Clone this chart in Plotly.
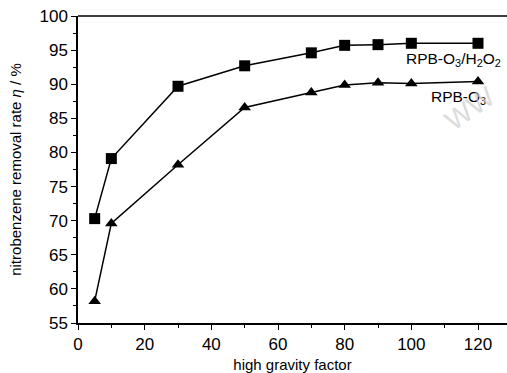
import plotly.graph_objects as go

x_vals = [5, 10, 30, 50, 70, 80, 90, 100, 120]
h2o2_vals = [70.3, 79.1, 89.7, 92.7, 94.6, 95.7, 95.8, 96.0, 96.0]
o3_vals = [58.2, 69.6, 78.2, 86.6, 88.8, 89.9, 90.2, 90.1, 90.4]

x_ticks = [0, 20, 40, 60, 80, 100, 120]
y_ticks = [55, 60, 65, 70, 75, 80, 85, 90, 95, 100]

FONT = "Liberation Sans, Arial"

fig = go.Figure()
fig.add_trace(go.Scatter(x=x_vals, y=h2o2_vals, mode="lines+markers",
                         line=dict(color="black", width=1.5),
                         marker=dict(symbol="square", size=11, color="black"),
                         showlegend=False))
fig.add_trace(go.Scatter(x=x_vals, y=o3_vals, mode="lines+markers",
                         line=dict(color="black", width=1.5),
                         marker=dict(symbol="triangle-up", size=11, color="black"),
                         showlegend=False))

fig.add_annotation(xref="paper", x=0.99, y=93.6, text="RPB-O<sub>3</sub>/H<sub>2</sub>O<sub>2</sub>",
                   showarrow=False, xanchor="right",
                   font=dict(family=FONT, size=15.5, color="black"))
fig.add_annotation(xref="paper", x=0.955, y=88.0, text="RPB-O<sub>3</sub>",
                   showarrow=False, xanchor="right",
                   font=dict(family=FONT, size=15.5, color="black"))
fig.add_annotation(x=117.5, y=86.5, text="WW", textangle=-35,
                   showarrow=False,
                   font=dict(family=FONT, size=28, color="rgba(205,205,205,0.7)"))

fig.update_layout(
    width=507, height=373,
    margin=dict(l=78, r=0, t=16, b=50),
    paper_bgcolor="white", plot_bgcolor="white",
    font=dict(family=FONT, size=17, color="black"),
    xaxis=dict(range=[0, 128.7], tickmode="array", tickvals=x_ticks,
               ticks="outside", ticklen=5, tickwidth=1.2, tickcolor="black",
               showline=True, linecolor="black", linewidth=1.5, mirror=False,
               showgrid=False, zeroline=False, automargin=False,
               minor=dict(tickvals=[10, 30, 50, 70, 90, 110], ticks="outside", ticklen=3,
                          tickcolor="black", tickwidth=1),
               title=dict(text="high gravity factor", font=dict(size=15), standoff=6),
               tickfont=dict(size=17)),
    yaxis=dict(range=[55, 100], tickmode="array", tickvals=y_ticks,
               ticks="outside", ticklen=5, tickwidth=1.2, tickcolor="black",
               showline=True, linecolor="black", linewidth=1.5,
               showgrid=False, zeroline=False, automargin=False,
               ticklabeloverflow="allow",
               minor=dict(tickvals=[57.5 + 5 * i for i in range(9)], ticks="outside", ticklen=3,
                          tickcolor="black", tickwidth=1),
               title=dict(text="nitrobenzene removal rate <i>η</i> / %", font=dict(size=15), standoff=14),
               tickfont=dict(size=17)),
    shapes=[dict(type="line", xref="paper", yref="paper", x0=0, x1=1, y0=1, y1=1,
                 line=dict(color="black", width=1.5))],
)

fig.write_html("out.html", config={"displayModeBar": False},
               post_script="document.body.style.margin='0';document.body.style.overflow='hidden';")
